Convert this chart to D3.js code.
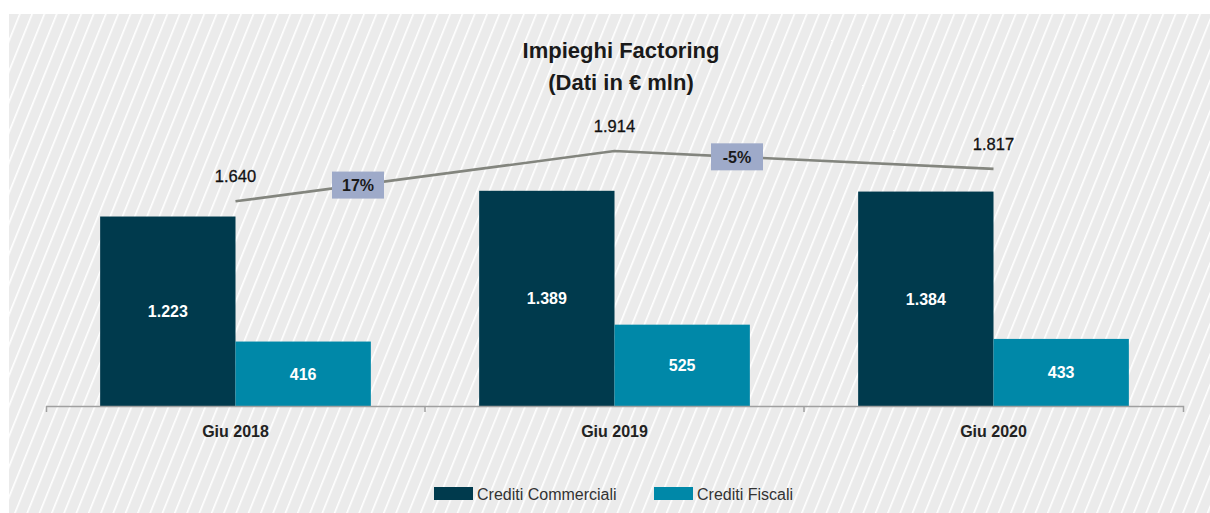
<!DOCTYPE html>
<html><head><meta charset="utf-8">
<script src="https://cdn.jsdelivr.net/npm/d3@7"></script>
<style>html,body{margin:0;padding:0;background:#fff;}svg{display:block;font-family:"Liberation Sans",Arial,sans-serif;}</style>
</head><body>
<script>
const categories = ["Giu 2018", "Giu 2019", "Giu 2020"];
const seriesNames = ["Crediti Commerciali", "Crediti Fiscali"];
const commerciali = [1223, 1389, 1384];
const fiscali = [416, 525, 433];
const totals = [1640, 1914, 1817];
const growthLabels = ["17%", "-5%"];
const titleLines = ["Impieghi Factoring", "(Dati in € mln)"];
const colors = ["#003a4d", "#0088a8"];

const W = 1210, H = 513;
const svg = d3.select("body").append("svg").attr("width", W).attr("height", H);

// background with diagonal stripes
const defs = svg.append("defs");
const pat = defs.append("pattern").attr("id", "hatch").attr("patternUnits", "userSpaceOnUse")
  .attr("width", 11.4).attr("height", 10).attr("patternTransform", "rotate(22)");
pat.append("rect").attr("width", 11.4).attr("height", 10).attr("fill", "#ebebeb");
pat.append("rect").attr("x", 0).attr("width", 1.6).attr("height", 10).attr("fill", "#ffffff");
svg.append("rect").attr("x", 9).attr("y", 14).attr("width", W - 9).attr("height", H - 14).attr("fill", "url(#hatch)");

const it = d3.formatLocale({decimal: ",", thousands: ".", grouping: [3], currency: ["€", ""]});
const fmt = it.format(",d");

const x = d3.scaleBand().domain(categories).range([46, 1183]).paddingInner(0).paddingOuter(0);
const x1 = d3.scaleBand().domain(seriesNames).range([0, x.bandwidth()]).paddingInner(0).paddingOuter(0.4);
const yBar = d3.scaleLinear().domain([0, 1500]).range([406, 173.6]);
const yLine = d3.scaleLinear().domain([1500, 2000]).range([227, 135.3]);

// title
svg.append("g").selectAll("text").data(titleLines).join("text")
  .attr("x", 621).attr("y", (d, i) => 58 + i * 32)
  .attr("text-anchor", "middle").attr("font-size", 22).attr("font-weight", "bold").attr("fill", "#1a1a1a")
  .text(d => d);

// bars
const rows = categories.map((c, i) => ({cat: c, vals: [commerciali[i], fiscali[i]]}));
const groups = svg.append("g").selectAll("g").data(rows).join("g")
  .attr("transform", d => `translate(${x(d.cat)},0)`);
groups.selectAll("rect").data(d => d.vals.map((v, j) => ({v, s: seriesNames[j], j}))).join("rect")
  .attr("x", d => x1(d.s)).attr("width", x1.bandwidth())
  .attr("y", d => yBar(d.v)).attr("height", d => yBar(0) - yBar(d.v))
  .attr("fill", d => colors[d.j]);
groups.selectAll("text").data(d => d.vals.map((v, j) => ({v, s: seriesNames[j], j}))).join("text")
  .attr("x", d => x1(d.s) + x1.bandwidth() / 2)
  .attr("y", d => (yBar(d.v) + yBar(0)) / 2 + 6)
  .attr("text-anchor", "middle").attr("font-size", 16).attr("font-weight", "bold").attr("fill", "#ffffff")
  .text(d => fmt(d.v));

// axis
const axisG = svg.append("g").attr("transform", "translate(0,406)")
  .call(d3.axisBottom(x).tickSize(0).tickSizeOuter(6).tickPadding(20));
axisG.select(".domain").attr("stroke", "#a0a0a0").attr("stroke-width", 1.5);
axisG.selectAll(".tick text").attr("font-size", 16).attr("font-weight", "bold").attr("fill", "#222")
  .attr("font-family", "Liberation Sans, Arial, sans-serif");
axisG.selectAll(".innerTick").data(categories.slice(1)).join("line")
  .attr("x1", d => x(d)).attr("x2", d => x(d)).attr("y1", 0).attr("y2", 6)
  .attr("stroke", "#a0a0a0").attr("stroke-width", 1.5);

// total line
const cx = c => x(c) + x.bandwidth() / 2;
const linePts = categories.map((c, i) => [cx(c), yLine(totals[i])]);
svg.append("path").datum(linePts).attr("d", d3.line())
  .attr("fill", "none").attr("stroke", "#83857e").attr("stroke-width", 2.6);
svg.append("g").selectAll("text").data(totals).join("text")
  .attr("x", (d, i) => cx(categories[i])).attr("y", d => yLine(d) - 19)
  .attr("text-anchor", "middle").attr("font-size", 16.5).attr("fill", "#111")
  .attr("stroke", "#111").attr("stroke-width", 0.3)
  .text(d => fmt(d));

// growth boxes
const gb = svg.append("g").selectAll("g").data(growthLabels).join("g")
  .attr("transform", (d, i) => {
    const mx = (cx(categories[i]) + cx(categories[i + 1])) / 2 - 67;
    const t = (mx - cx(categories[i])) / (cx(categories[i + 1]) - cx(categories[i]));
    const my = yLine(totals[i]) + t * (yLine(totals[i + 1]) - yLine(totals[i]));
    return `translate(${mx},${my})`;
  });
gb.append("rect").attr("x", -26).attr("y", -13.5).attr("width", 52).attr("height", 27).attr("fill", "#9eaac9");
gb.append("text").attr("y", 6).attr("text-anchor", "middle").attr("font-size", 16).attr("font-weight", "bold")
  .attr("fill", "#1a1a1a").text(d => d);

// legend
const legendX = [434, 654];
const lg = svg.append("g").selectAll("g").data(seriesNames).join("g")
  .attr("transform", (d, i) => `translate(${legendX[i]},487)`);
lg.append("rect").attr("width", 39).attr("height", 13).attr("fill", (d, i) => colors[i]);
lg.append("text").attr("x", 43).attr("y", 12.5).attr("font-size", 16).attr("fill", "#333").text(d => d);
</script>
</body></html>
